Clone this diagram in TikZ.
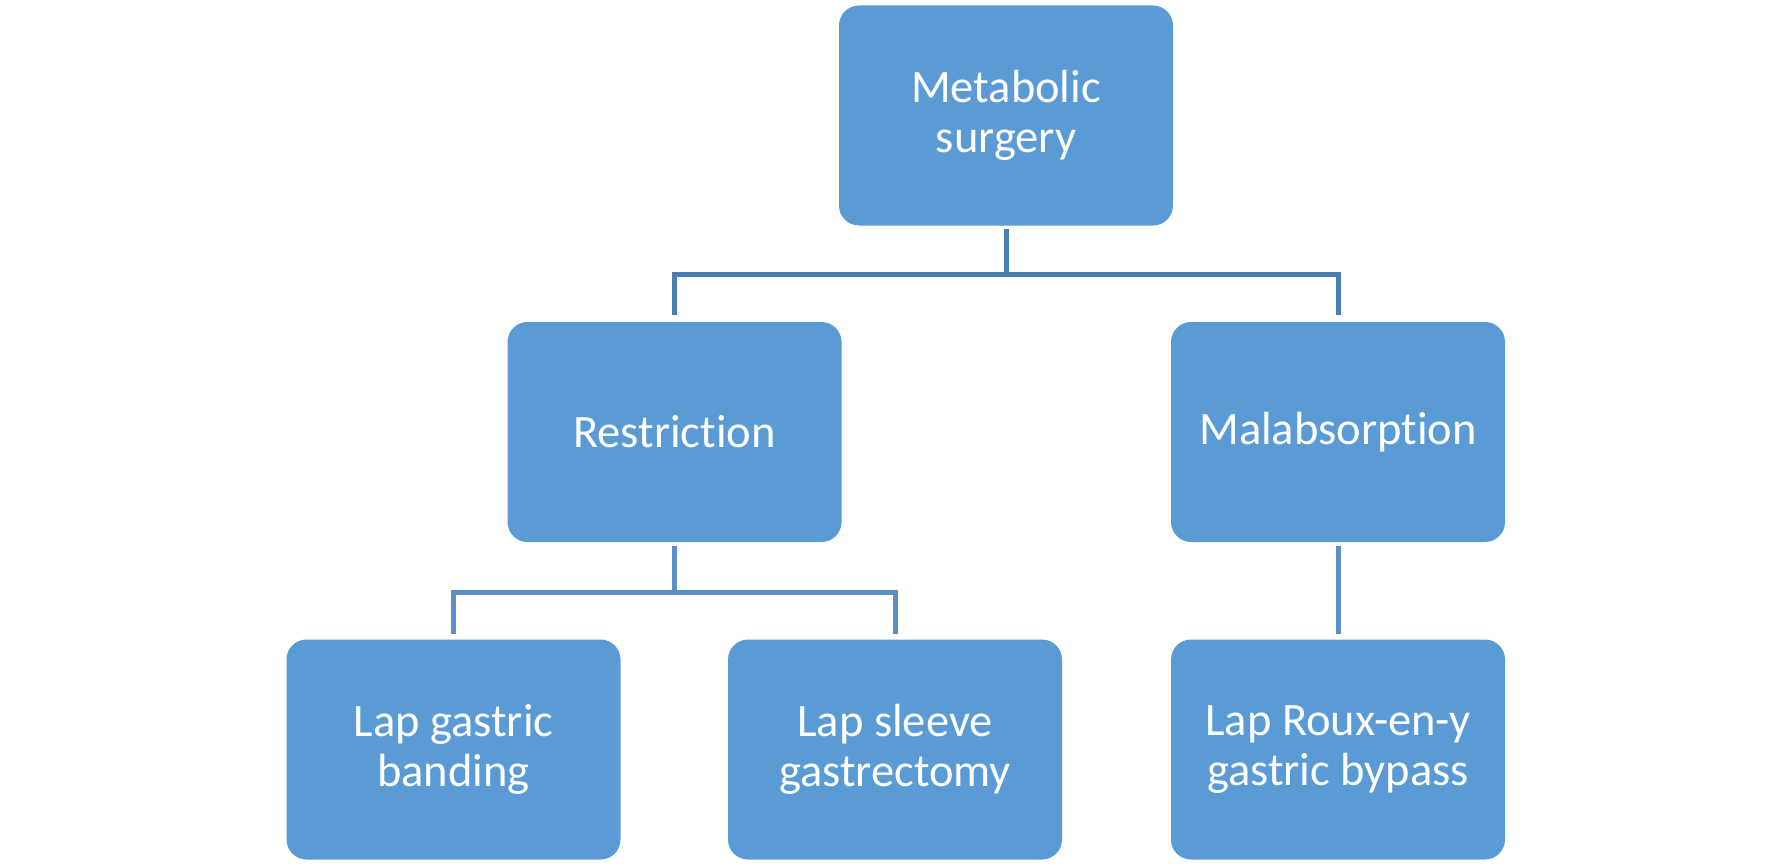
\documentclass[tikz,border=0pt]{standalone}
\usepackage{fontspec}
\setmainfont{Carlito}[Ligatures=NoCommon]
\definecolor{boxblue}{HTML}{5B9BD5}
\definecolor{lineA}{HTML}{4A7EAE}
\definecolor{lineB}{HTML}{5A8FC8}
\begin{document}
\begin{tikzpicture}[x=0.5pt,y=-0.5pt,
  box/.style={rectangle, rounded corners=10pt, fill=boxblue, draw=none,
    minimum width=167pt, minimum height=110pt, inner sep=0pt,
    text=white, align=center,
    font=\fontsize{23.25pt}{25pt}\selectfont},
  connA/.style={draw=lineA, line width=2.5pt},
  connB/.style={draw=lineB, line width=2.5pt}]
\useasboundingbox (0,0) rectangle (1791,866);
\node[box] (top) at (1006,115.5) {Metabolic\\surgery};
\node[box] (restr) at (674.5,432) {Restriction};
\node[box] (malab) at (1338,432) {Malabsorption};
\node[box] (lgb) at (453.5,749.5) {Lap gastric\\banding};
\node[box] (lsg) at (895,749.5) {Lap sleeve\\gastrectomy};
\node[box] (roux) at (1338,749.5) {Lap Roux-en-y\\gastric bypass};
\coordinate (j1) at (1006,274.5);
\coordinate (j2) at (674.5,592.5);
\draw[connA] ([yshift=-1.5pt]top.south) -- (j1);
\draw[connA] ([yshift=3.5pt]restr.north) |- (j1) -| ([yshift=3.5pt]malab.north);
\draw[connB] ([yshift=-2pt]restr.south) -- (j2);
\draw[connB] ([yshift=2.5pt]lgb.north) |- (j2) -| ([yshift=2.5pt]lsg.north);
\draw[connB] ([yshift=-2pt]malab.south) -- ([yshift=2.5pt]roux.north);
\end{tikzpicture}
\end{document}
